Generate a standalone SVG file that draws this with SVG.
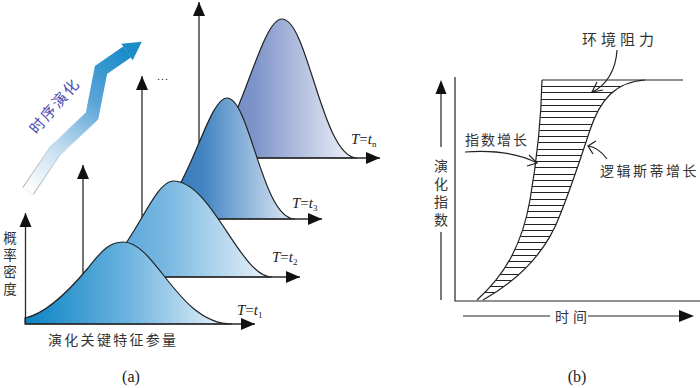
<svg xmlns="http://www.w3.org/2000/svg" width="700" height="388" viewBox="0 0 700 388">
<style>
.ax{fill:none;stroke:#2a2a2a;stroke-width:1.3}
.cv{stroke:#222;stroke-width:1.2}
.ln{fill:none;stroke:#222;stroke-width:1.2}
.cn{font-family:"Noto Sans CJK SC","Noto Sans CJK JP",sans-serif;fill:#333}
.vt{writing-mode:tb;font-size:14px}
.tl{font-family:"Liberation Serif",serif;font-size:15px;fill:#222}
.cap{font-family:"Liberation Serif",serif;font-size:16px;fill:#222;text-anchor:middle}
</style>
<defs>
<marker id="ah" markerUnits="userSpaceOnUse" markerWidth="15" markerHeight="12" refX="14" refY="6" orient="auto" overflow="visible">
<path d="M0,0 L14,6 L0,12 Z" fill="#111"/>
</marker>
<linearGradient id="g1" x1="0" y1="0" x2="1" y2="0">
<stop offset="0" stop-color="#0b84c4"/><stop offset="0.5" stop-color="#6db3df"/><stop offset="1" stop-color="#f0f6fb"/>
</linearGradient>
<linearGradient id="g2" x1="0" y1="0" x2="1" y2="0">
<stop offset="0" stop-color="#3d97d2"/><stop offset="0.45" stop-color="#7ab9e2"/><stop offset="1" stop-color="#eef4fa"/>
</linearGradient>
<linearGradient id="g3" x1="0" y1="0" x2="1" y2="0">
<stop offset="0" stop-color="#2a6fb5"/><stop offset="0.4" stop-color="#4384c2"/><stop offset="1" stop-color="#e4ecf6"/>
</linearGradient>
<linearGradient id="g4" x1="0" y1="0" x2="1" y2="0">
<stop offset="0" stop-color="#6680c0"/><stop offset="0.35" stop-color="#7d94c9"/><stop offset="1" stop-color="#f4f5fb"/>
</linearGradient>
<linearGradient id="ga" gradientUnits="userSpaceOnUse" x1="28" y1="191" x2="127" y2="52">
<stop offset="0" stop-color="#ffffff"/><stop offset="0.3" stop-color="#c6def0"/><stop offset="0.65" stop-color="#5aa5d8"/><stop offset="1" stop-color="#1a8cc8"/>
</linearGradient>
<linearGradient id="gb" gradientUnits="userSpaceOnUse" x1="28" y1="191" x2="127" y2="52">
<stop offset="0" stop-color="#b0b0b0"/><stop offset="0.35" stop-color="#c6def0"/><stop offset="0.65" stop-color="#5aa5d8"/><stop offset="1" stop-color="#1a8cc8"/>
</linearGradient>
<clipPath id="hc">
<path d="M477,300 C505,275 522,245 530,200 C536,165 541,130 542,80 L645,80 C615,82 600,100 590,130 C580,160 572,185 560,215 C545,255 515,282 483,300 Z"/>
</clipPath>
</defs>

<!-- panel (a) -->
<g id="dist-tn">
<path class="cv" fill="url(#g4)" d="M199,158 C236,158 258,19 282,19 C308,19 322,158 357,158 Z"/>
<path class="ax" d="M199,158 V2" marker-end="url(#ah)"/>
<path class="ax" d="M199,158 H380" marker-end="url(#ah)"/>
<text class="tl" x="351" y="144"><tspan font-style="italic">T</tspan>=<tspan font-style="italic">t</tspan><tspan font-size="9" dy="3">n</tspan></text>
</g>
<g id="dist-t3">
<path class="cv" fill="url(#g3)" d="M142,219 C185,219 205,98 227,98 C250,98 262,219 295,219 Z"/>
<path class="ax" d="M142,219 V76" marker-end="url(#ah)"/>
<path class="ax" d="M142,219 H322" marker-end="url(#ah)"/>
<text class="tl" x="292" y="208"><tspan font-style="italic">T</tspan>=<tspan font-style="italic">t</tspan><tspan font-size="9" dy="3">3</tspan></text>
</g>
<g id="dist-t2">
<path class="cv" fill="url(#g2)" d="M83,277 C125,277 150,181 173,181 C212,181 240,277 272,277 Z"/>
<path class="ax" d="M83,277 V165" marker-end="url(#ah)"/>
<path class="ax" d="M83,277 H300" marker-end="url(#ah)"/>
<text class="tl" x="272" y="262"><tspan font-style="italic">T</tspan>=<tspan font-style="italic">t</tspan><tspan font-size="9" dy="3">2</tspan></text>
</g>
<g id="dist-t1">
<path class="cv" fill="url(#g1)" d="M25,324 L25,318 C45,314 68,292 88,268 C102,250 110,242 123,242 C156,242 178,324 232,324 Z"/>
<path class="ax" d="M25.5,324 V213" marker-end="url(#ah)"/>
<path class="ax" d="M25,324 H255" marker-end="url(#ah)"/>
<text class="tl" x="237" y="315"><tspan font-style="italic">T</tspan>=<tspan font-style="italic">t</tspan><tspan font-size="9" dy="3">1</tspan></text>
</g>
<g id="ellipsis">
<text x="157" y="80" font-family="Liberation Sans,sans-serif" font-size="11" letter-spacing="1" fill="#222">...</text>
</g>
<g id="evolution-arrow">
<polyline points="28,191 55,151 92,116 101,70 127,52" fill="none" stroke="url(#gb)" stroke-width="13.5" stroke-linejoin="miter"/>
<polyline points="28,191 55,151 92,116 101,70 127,52" fill="none" stroke="url(#ga)" stroke-width="11.5" stroke-linejoin="miter"/>
<polygon points="141.8,41.8 121.3,43.8 132.7,60.2" fill="#1a8cc8"/>
<text class="cn" transform="translate(55,106) rotate(-49)" text-anchor="middle" dy="5" font-size="15" letter-spacing="2" style="fill:#4b4bb0">时序演化</text>
</g>
<g id="labels-a">
<text class="cn" x="48" y="345" font-size="14" letter-spacing="2.3">演化关键特征参量</text>
<text class="cn vt" x="10" y="231" letter-spacing="3.5" style="font-size:13.5px">概率密度</text>
<text class="cap" x="131" y="382">(a)</text>
</g>

<!-- panel (b) -->
<g id="axes-b">
<path class="ln" d="M455,77 V301 H700"/>
<path class="ln" d="M441,147 V93"/>
<polygon points="441,80 435.5,94 446.5,94" fill="#111"/>
<path class="ln" d="M441,232 V300"/>
<text class="cn vt" x="441" y="159" letter-spacing="4">演化指数</text>
<path class="ln" d="M463,316 H550"/>
<path class="ln" d="M588,316 H680"/>
<polygon points="694,316 679,310 679,322" fill="#111"/>
<text class="cn" x="555" y="322" font-size="14" letter-spacing="4">时间</text>
<text class="cap" x="577" y="382">(b)</text>
</g>
<g id="growth-area">
<g clip-path="url(#hc)">
<path fill="none" stroke="#222" stroke-width="1" d="M470,86.5H650M470,92.5H650M470,99.5H650M470,105.5H650M470,111.5H650M470,117.5H650M470,124.5H650M470,130.5H650M470,136.5H650M470,142.5H650M470,149.5H650M470,155.5H650M470,161.5H650M470,167.5H650M470,174.5H650M470,180.5H650M470,186.5H650M470,192.5H650M470,199.5H650M470,205.5H650M470,211.5H650M470,217.5H650M470,224.5H650M470,230.5H650M470,236.5H650M470,242.5H650M470,249.5H650M470,255.5H650M470,261.5H650M470,267.5H650M470,274.5H650M470,280.5H650M470,286.5H650M470,292.5H650"/>
</g>
<path class="ln" id="exp-curve" d="M477,300 C505,275 522,245 530,200 C536,165 541,130 542,80"/>
<path class="ln" id="logistic-curve" d="M483,300 C515,282 545,255 560,215 C572,185 580,160 590,130 C600,100 615,82 645,80 L683,80"/>
<path class="ln" d="M542,80 H645"/>
</g>
<g id="annotations">
<path class="ln" d="M617,50 C616,70 606,86 592,92"/>
<path class="ln" d="M597,82 L592,92 L603,90"/>
<text class="cn" x="582" y="45" font-size="15" letter-spacing="4">环境阻力</text>
<path class="ln" d="M465,152 C495,150 520,154 537,163"/>
<path class="ln" d="M529,155 L537,163 L527,166"/>
<text class="cn" x="465" y="145" font-size="14" letter-spacing="2">指数增长</text>
<path class="ln" d="M607,159 C602,152 596,147 588,146"/>
<path class="ln" d="M596,141 L588,146 L593,154"/>
<text class="cn" x="600" y="176" font-size="14" letter-spacing="2.5">逻辑斯蒂增长</text>
</g>
</svg>
